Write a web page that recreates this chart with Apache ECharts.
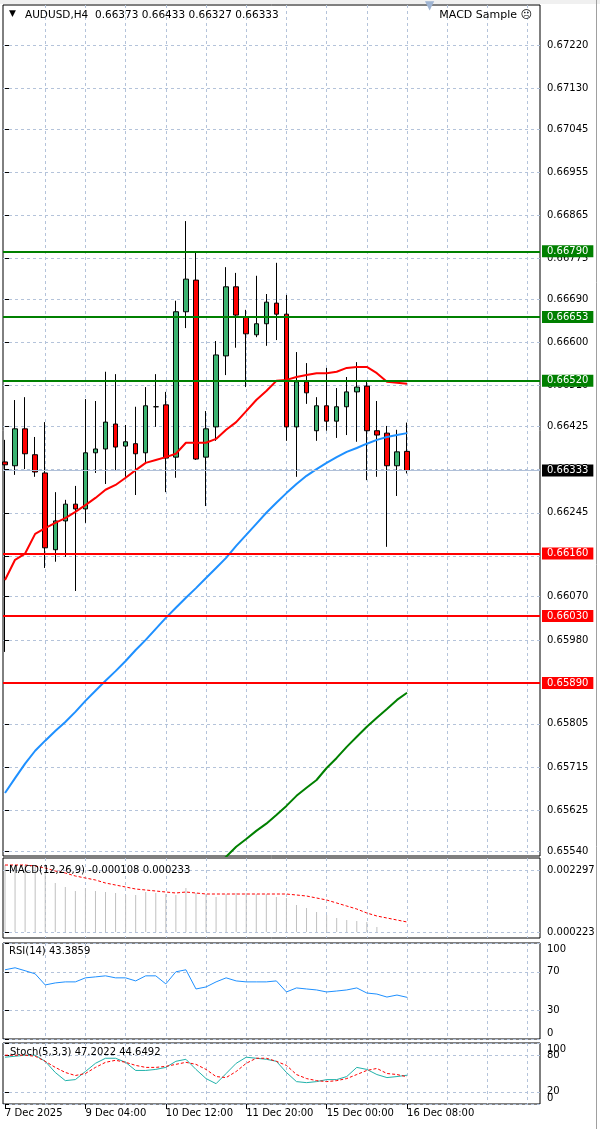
<!DOCTYPE html>
<html>
<head>
<meta charset="utf-8">
<script src="https://cdn.jsdelivr.net/npm/echarts@6/dist/echarts.min.js"></script>
<style>html,body{margin:0;padding:0;background:#fff}#c{width:600px;height:1129px}</style>
</head>
<body>
<div id="c"></div>
<script>
// ---- Data (H4 bars, index 0..40) ----
const OPEN  = [0.66351,0.66343,0.66420,0.66366,0.66328,0.66168,0.66228,0.66263,0.66253,0.66370,
               0.66378,0.66430,0.66384,0.66389,0.66370,0.66466,0.66470,0.66361,0.66664,0.66730,
               0.66361,0.66424,0.66572,0.66716,0.66653,0.66616,0.66639,0.66682,0.66659,0.66424,
               0.66518,0.66416,0.66468,0.66436,0.66466,0.66497,0.66509,0.66416,0.66411,0.66343,
               0.66373];
const HIGH  = [0.66397,0.66480,0.66486,0.66403,0.66434,0.66288,0.66272,0.66301,0.66482,0.66478,
               0.66539,0.66534,0.66428,0.66466,0.66507,0.66534,0.66497,0.66687,0.66853,0.66787,
               0.66457,0.66603,0.66757,0.66745,0.66668,0.66739,0.66701,0.66766,0.66699,0.66580,
               0.66557,0.66486,0.66547,0.66505,0.66528,0.66559,0.66518,0.66478,0.66426,0.66418,
               0.66433];
const LOW   = [0.65955,0.66324,0.66336,0.66320,0.66130,0.66143,0.66153,0.66082,0.66224,0.66328,
               0.66305,0.66332,0.66320,0.66282,0.66351,0.66424,0.66288,0.66318,0.66630,0.66355,
               0.66259,0.66395,0.66532,0.66589,0.66507,0.66611,0.66593,0.66605,0.66395,0.66320,
               0.66472,0.66395,0.66416,0.66401,0.66407,0.66393,0.66313,0.66320,0.66174,0.66280,
               0.66327];
const CLOSE = [0.66345,0.66420,0.66368,0.66330,0.66172,0.66228,0.66263,0.66253,0.66370,0.66378,
               0.66434,0.66382,0.66393,0.66368,0.66468,0.66466,0.66359,0.66664,0.66732,0.66357,
               0.66420,0.66574,0.66716,0.66657,0.66618,0.66639,0.66684,0.66659,0.66424,0.66518,
               0.66495,0.66468,0.66436,0.66466,0.66497,0.66507,0.66416,0.66407,0.66343,0.66372,
               0.66333];
const MA_RED   = [0.66105,0.66147,0.66160,0.66201,0.66213,0.66224,0.66234,0.66247,0.66261,0.66276,
                  0.66293,0.66303,0.66318,0.66334,0.66349,0.66355,0.66361,0.66368,0.66391,0.66391,
                  0.66391,0.66399,0.66418,0.66434,0.66457,0.66480,0.66499,0.66520,0.66522,0.66528,
                  0.66532,0.66536,0.66536,0.66539,0.66547,0.66549,0.66549,0.66536,0.66518,0.66516,
                  0.66514];
const MA_BLUE  = [0.65661,0.65692,0.65722,0.65749,0.65770,0.65790,0.65809,0.65830,0.65853,0.65874,
                  0.65895,0.65915,0.65936,0.65959,0.65980,0.66003,0.66026,0.66047,0.66068,0.66088,
                  0.66109,0.66130,0.66151,0.66176,0.66199,0.66222,0.66245,0.66266,0.66286,0.66305,
                  0.66322,0.66336,0.66349,0.66361,0.66372,0.66380,0.66389,0.66397,0.66403,0.66407,
                  0.66411];
const MA_GREEN = [null,null,null,null,null,null,null,null,null,null,
                  null,null,null,null,null,null,null,null,null,null,
                  null,0.65509,0.65528,0.65549,0.65565,0.65582,0.65597,0.65615,0.65634,0.65655,
                  0.65672,0.65688,0.65713,0.65734,0.65757,0.65778,0.65799,0.65818,0.65836,0.65855,
                  0.65870];
const MACD_HIST   = [0.002482,0.002482,0.002482,0.002482,0.002223,0.001815,0.001667,0.001519,0.001630,0.001519,
                     0.001482,0.001445,0.001371,0.001371,0.001482,0.001445,0.001408,0.001371,0.001630,0.001445,
                     0.001408,0.001297,0.001408,0.001445,0.001445,0.001408,0.001408,0.001297,0.001260,0.001000,
                     0.000889,0.000741,0.000630,0.000519,0.000445,0.000408,0.000371,0.000185,0,0,
                     0];
const MACD_SIGNAL = [0.002482,0.002482,0.002482,0.002445,0.002371,0.002260,0.002186,0.002075,0.002001,0.001927,
                     0.001815,0.001741,0.001667,0.001593,0.001556,0.001519,0.001482,0.001445,0.001482,0.001445,
                     0.001408,0.001408,0.001408,0.001408,0.001408,0.001408,0.001408,0.001408,0.001408,0.001371,
                     0.001334,0.001260,0.001186,0.001075,0.000963,0.000852,0.000704,0.000593,0.000519,0.000445,
                     0.000371];
const RSI     = [72.1,74.2,71.1,67.9,56.3,58.4,59.5,59.5,63.7,64.7,
                 65.8,63.7,63.7,60.5,65.8,65.8,57.4,70.0,72.1,52.1,
                 54.2,59.5,63.7,60.5,59.5,59.5,59.5,60.5,49.0,53.2,
                 52.1,51.1,49.0,50.0,51.1,53.2,47.9,46.8,43.7,45.8,
                 43.4];
const STOCH_K = [76.7,78.3,80,80,70,51.7,38.3,40,53.3,66.7,
                 75,75,68.3,55,55,56.7,60,70,73.3,56.7,
                 41.7,33.3,50,66.7,76.7,75,73.3,70,51.7,36.7,
                 35,36.7,40,40,45,60,56.7,48.3,43.3,45,
                 47.2];
const STOCH_D = [80,80,80,78.3,70,60,51.7,46.7,50,60,
                 68.3,71.7,68.3,63.3,60,60,61.7,65,68.3,65,
                 56.7,45,43.3,53.3,66.7,75,75,70,63.3,48.3,
                 41.7,38.3,36.7,38.3,41.7,48.3,55,58.3,50,48.3,
                 44.6];
const TIME_LABELS     = ['7 Dec 2025','9 Dec 04:00','10 Dec 12:00','11 Dec 20:00','15 Dec 00:00','16 Dec 08:00'];
const TIME_LABEL_BARS = [0,8,16,24,32,40];
const GRID_BARS       = [4,8,12,16,20,24,28,32,36,40,44,48,52];
const PRICE_TICKS = [0.67220,0.67130,0.67045,0.66955,0.66865,0.66775,0.66690,0.66600,0.66510,0.66425,
                     0.66335,0.66245,0.66155,0.66070,0.65980,0.65890,0.65805,0.65715,0.65625,0.65540];
const GREEN_LEVELS = [0.66790,0.66653,0.66520];
const RED_LEVELS   = [0.66160,0.66030,0.65890];
const LAST_PRICE   = 0.66333;
const MACD_TICKS   = [0.002297,0];
const MACD_TICK_TEXT = ['0.002297','0.000223'];
const RSI_TICKS    = [0,30,70,100];
const STOCH_EDGE_TICKS  = [0,100];
const STOCH_LEVEL_TICKS = [20,80];
const HEADER = 'AUDUSD,H4  0.66373 0.66433 0.66327 0.66333';
const MACD_TITLE = 'MACD(12,26,9) -0.000108 0.000233';
const RSI_TITLE = 'RSI(14) 43.3859';
const STOCH_TITLE = 'Stoch(5,3,3) 47.2022 44.6492';
const EA_TEXT = 'MACD Sample \u2639';

// ---- Layout / style ----
const FONT = 'DejaVu Sans';
const GRID_COLOR = '#b4c3da';
const XMIN = -0.2, XMAX = 53.23;
const G = {left:3, right:60};
const gridStyle = {show:true, borderColor:'#000', borderWidth:1, backgroundColor:'transparent'};

const xAxes = [0,1,2,3].map(g => ({
  type:'value', gridIndex:g, min:XMIN, max:XMAX,
  axisLine:{show:false}, axisLabel:{show:false},
  axisTick:{show:false, customValues:GRID_BARS},
  splitLine:{show:true, lineStyle:{color:GRID_COLOR, type:[3,3], width:1}}
}));
xAxes.push({
  type:'value', gridIndex:3, min:XMIN, max:XMAX, position:'bottom',
  axisLine:{show:false},
  axisTick:{show:true, customValues:TIME_LABEL_BARS, length:5, lineStyle:{color:'#000'}},
  axisLabel:{show:true, customValues:TIME_LABEL_BARS, hideOverlap:false, showMinLabel:true, showMaxLabel:true,
    formatter: v => { const k = TIME_LABEL_BARS.indexOf(v); return k >= 0 ? TIME_LABELS[k] : ''; },
    align:'left', margin:4, fontFamily:FONT, fontSize:10, color:'#000'},
  splitLine:{show:false}
});

function yAx(g, min, max, ticks, fmt, rich) {
  return {
    type:'value', gridIndex:g, position:'right', offset:0, min:min, max:max,
    axisLine:{show:false},
    axisTick:{show:true, customValues:ticks, length:4, lineStyle:{color:'#000'}},
    axisLabel:{show:true, customValues:ticks, formatter:fmt, margin:7, hideOverlap:false,
      showMinLabel:true, showMaxLabel:true,
      fontFamily:FONT, fontSize:10, color:'#000', rich:rich || {}},
    splitLine:{show:true, lineStyle:{color:GRID_COLOR, type:[3,3], width:1}}
  };
}
const edgeRich = {
  t:{fontFamily:FONT, fontSize:10, color:'#000', padding:[12,0,0,0]},
  b:{fontFamily:FONT, fontSize:10, color:'#000', padding:[0,0,12,0]}
};
const edgeFmt = v => v === 100 ? '{t|100}' : (v === 0 ? '{b|0}' : String(v));
const yAxes = [
  yAx(0, 0.655296, 0.673034, PRICE_TICKS, v => v.toFixed(5)),
  yAx(1, -0.000222, 0.002742, MACD_TICKS, v => MACD_TICK_TEXT[MACD_TICKS.indexOf(v)] ?? ''),
  yAx(2, 0, 100, RSI_TICKS, edgeFmt, edgeRich),
  yAx(3, 0, 100, STOCH_EDGE_TICKS, edgeFmt, edgeRich),
  yAx(3, 0, 100, STOCH_LEVEL_TICKS, v => String(v))
];

const candles = OPEN.map((o, i) => [i, o, CLOSE[i], LOW[i], HIGH[i]]);
const idx = arr => arr.map((v, i) => [i, v]);

const levelLines = [
  ...GREEN_LEVELS.map(v => ({yAxis:v, lineStyle:{color:'#008000', width:2, type:'solid'},
      label:{backgroundColor:'#008000', color:'#fff'}})),
  ...RED_LEVELS.map(v => ({yAxis:v, lineStyle:{color:'#ff0000', width:2, type:'solid'},
      label:{backgroundColor:'#ff0000', color:'#fff'}})),
  {yAxis:LAST_PRICE, lineStyle:{color:'#b0c0d8', width:1, type:'solid'},
      label:{backgroundColor:'#000', color:'#fff'}}
];

const lineS = (name, data, xi, yi, color, width, type, z) => ({
  name, type:'line', xAxisIndex:xi, yAxisIndex:yi, data:idx(data), symbol:'none',
  showSymbol:false, connectNulls:false, clip:true, z:z || 3,
  lineStyle:{color, width, type:type || 'solid'}, itemStyle:{color}
});

const txt = (text, x, y, opts) => Object.assign({
  type:'text', x, y, z:100,
  style:Object.assign({text, font:'10px "DejaVu Sans"', fill:'#000', verticalAlign:'middle', align:'left'}, opts || {})
});

const option = {
  animation:false,
  backgroundColor:'#fff',
  grid:[
    Object.assign({top:5, height:851}, G, gridStyle),
    Object.assign({top:858, height:80}, G, gridStyle),
    Object.assign({top:943, height:96}, G, gridStyle),
    Object.assign({top:1043, height:61}, G, gridStyle)
  ],
  xAxis:xAxes,
  yAxis:yAxes,
  graphic:[
    {type:'rect', z:0, shape:{x:0, y:0, width:600, height:4}, style:{fill:'#f0f0f0'}},
    {type:'line', z:0, shape:{x1:596.5, y1:0, x2:596.5, y2:1129}, style:{stroke:'#a0a0a0', lineWidth:1}},
    txt('\u25BC', 9, 14, {font:'9px "DejaVu Sans"'}),
    txt(HEADER, 25, 15, {font:'10.5px "DejaVu Sans"'}),
    txt(EA_TEXT, 532, 15, {align:'right', font:'11px "DejaVu Sans"'}),
    txt('\u25BC', 425, 6, {font:'12px "DejaVu Sans"', fill:'#9fb4d2'}),
    txt(MACD_TITLE, 9, 870),
    txt(RSI_TITLE, 9, 951),
    txt(STOCH_TITLE, 10, 1052)
  ],
  series:[
    {
      name:'AUDUSD', type:'candlestick', xAxisIndex:0, yAxisIndex:0, data:candles, barWidth:5, z:2,
      itemStyle:{color:'#3cb371', color0:'#ff0000', borderColor:'#000', borderColor0:'#000',
                 borderColorDoji:'#000', borderWidth:1},
      markLine:{
        symbol:['none','none'], silent:true, animation:false, z:5, precision:5,
        label:{show:true, position:'end', distance:2, formatter:p => Number(p.value).toFixed(5),
               fontFamily:FONT, fontSize:10, padding:[1,5,1,5]},
        data:levelLines
      }
    },
    lineS('MA red', MA_RED, 0, 0, '#ff0000', 2),
    lineS('MA blue', MA_BLUE, 0, 0, '#1e90ff', 2),
    lineS('MA green', MA_GREEN, 0, 0, '#008000', 2),
    {name:'MACD', type:'bar', xAxisIndex:1, yAxisIndex:1, data:idx(MACD_HIST), barWidth:1,
     itemStyle:{color:'#c0c0c0'}, z:2},
    lineS('Signal', MACD_SIGNAL, 1, 1, '#ff0000', 1, [3,2]),
    lineS('RSI', RSI, 2, 2, '#1e90ff', 1),
    lineS('%K', STOCH_K, 3, 3, '#20b2aa', 1),
    lineS('%D', STOCH_D, 3, 3, '#ff0000', 1, [3,2])
  ]
};

const chart = echarts.init(document.getElementById('c'), null, {renderer:'canvas'});
chart.setOption(option);
</script>
</body>
</html>
